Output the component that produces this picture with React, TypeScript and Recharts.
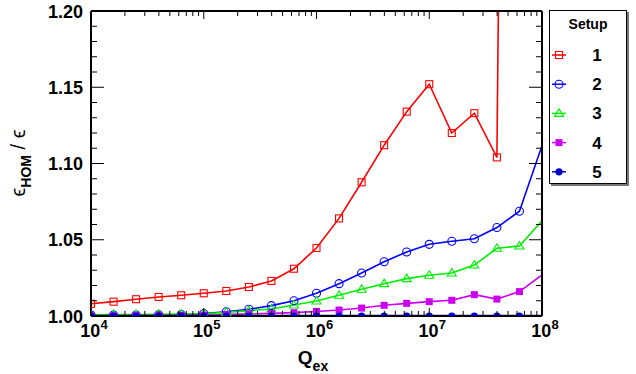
import { LineChart, Line, XAxis, YAxis } from 'recharts';

// Q_ex sample points (0.2 decade steps)
const qValues = [
  1e4, 1.585e4, 2.512e4, 3.981e4, 6.31e4,
  1e5, 1.585e5, 2.512e5, 3.981e5, 6.31e5,
  1e6, 1.585e6, 2.512e6, 3.981e6, 6.31e6,
  1e7, 1.585e7, 2.512e7, 3.981e7, 6.31e7,
  1e8,
];

const setup1 = [1.008, 1.0094, 1.011, 1.0125, 1.0136, 1.0149, 1.0164, 1.019, 1.023, 1.031, 1.0446, 1.064, 1.0877, 1.112, 1.134, 1.152, 1.12, 1.133, 1.104, 2.6, null];
const setup2 = [1.0006, 1.0006, 1.0007, 1.0008, 1.001, 1.0016, 1.0028, 1.0044, 1.0068, 1.01, 1.0149, 1.0212, 1.0282, 1.0356, 1.042, 1.047, 1.049, 1.0507, 1.058, 1.0687, 1.1117];
const setup3 = [1.0008, 1.0009, 1.001, 1.0011, 1.0012, 1.0014, 1.0024, 1.0035, 1.0046, 1.0072, 1.0098, 1.0136, 1.0175, 1.0212, 1.0245, 1.0267, 1.0282, 1.0334, 1.0444, 1.0459, 1.0625];
const setup4 = [1.0002, 1.0002, 1.0003, 1.0003, 1.0004, 1.0005, 1.001, 1.0014, 1.0017, 1.0022, 1.003, 1.0039, 1.0052, 1.007, 1.0083, 1.0094, 1.0103, 1.014, 1.0111, 1.016, 1.0269];
const setup5 = [1, 1, 1, 1, 1, 1, 1, 1, 1, 1, 1, 1, 1, 1, 1, 1, 1, 1, 1, 1, 1];

const seriesNames = ['1', '2', '3', '4', '5'];
const seriesKeys = ['s1', 's2', 's3', 's4', 's5'];
const seriesColors = ['#ff0000', '#0000ff', '#00ee00', '#cc00f0', '#0000c8'];
const seriesMarkers = ['openSquare', 'openCircle', 'openTriangle', 'square', 'circle'];

const xMajorTicks = [1e4, 1e5, 1e6, 1e7, 1e8];
const xMinorSteps = [2, 3, 4, 5, 6, 7, 8, 9];
const yTicks = [1.0, 1.01, 1.02, 1.03, 1.04, 1.05, 1.06, 1.07, 1.08, 1.09, 1.1, 1.11, 1.12, 1.13, 1.14, 1.15, 1.16, 1.17, 1.18, 1.19, 1.2];

const xTicks = [
  ...xMajorTicks,
  ...xMajorTicks.slice(0, -1).flatMap((d) => xMinorSteps.map((m) => d * m)),
].sort((a, b) => a - b);

const data = qValues.map((q, i) => ({
  q,
  s1: setup1[i],
  s2: setup2[i],
  s3: setup3[i],
  s4: setup4[i],
  s5: setup5[i],
}));

const FONT = '"Liberation Sans", Arial, Helvetica, sans-serif';

const isMajorX = (v: number) => xMajorTicks.some((d) => Math.abs(v - d) / d < 1e-6);
const isMajorY = (v: number) => Math.round(v * 100) % 5 === 0;

const Marker = ({ type, cx, cy, color }: any) => {
  if (type === 'openSquare')
    return <rect x={cx - 3.5} y={cy - 3.5} width={7} height={7} fill="none" stroke={color} strokeWidth={1.1} />;
  if (type === 'openCircle')
    return <circle cx={cx} cy={cy} r={4} fill="none" stroke={color} strokeWidth={1.1} />;
  if (type === 'openTriangle')
    return (
      <polygon
        points={`${cx},${cy - 4.5} ${cx - 4.5},${cy + 3} ${cx + 4.5},${cy + 3}`}
        fill="none"
        stroke={color}
        strokeWidth={1.1}
      />
    );
  if (type === 'square')
    return <rect x={cx - 3.5} y={cy - 3.5} width={7} height={7} fill={color} stroke="none" />;
  return <circle cx={cx} cy={cy} r={3.6} fill={color} stroke="none" />;
};

const makeDot = (type: string, color: string) => (props: any) => {
  const { cx, cy, payload, key, index } = props;
  const k = key ?? `dot-${type}-${index}`;
  if (cx == null || cy == null || payload == null || payload.q >= 1e8) return <g key={k} />;
  return (
    <g key={k}>
      <Marker type={type} cx={cx} cy={cy} color={color} />
    </g>
  );
};

const BottomTick = ({ x, y, payload }: any) => {
  const major = isMajorX(payload.value);
  const exp = Math.round(Math.log10(payload.value));
  return (
    <g>
      <line x1={x} x2={x} y1={y} y2={y - (major ? 8 : 5)} stroke="#000" strokeWidth={1} />
      {major && (
        <text x={x + 3} y={y + 21} textAnchor="middle" fontFamily={FONT} fontWeight="bold" fontSize={18} fill="#000">
          10
          <tspan fontSize={13} dy={-8}>{exp}</tspan>
        </text>
      )}
    </g>
  );
};

const TopTick = ({ x, y, payload }: any) => {
  const major = isMajorX(payload.value);
  return <line x1={x} x2={x} y1={y} y2={y + (major ? 8 : 5)} stroke="#000" strokeWidth={1} />;
};

const LeftTick = ({ x, y, payload }: any) => {
  const major = isMajorY(payload.value);
  return (
    <g>
      <line x1={x} x2={x + (major ? 13 : 6)} y1={y} y2={y} stroke="#000" strokeWidth={1} />
      {major && (
        <text x={x - 8} y={y + 6.5} textAnchor="end" fontFamily={FONT} fontWeight="bold" fontSize={18} fill="#000">
          {payload.value.toFixed(2)}
        </text>
      )}
    </g>
  );
};

const RightTick = ({ x, y, payload }: any) => {
  const major = isMajorY(payload.value);
  return <line x1={x} x2={x - (major ? 13 : 6)} y1={y} y2={y} stroke="#000" strokeWidth={1} />;
};

const LegendBox = () => (
  <svg width={636} height={374} style={{ position: 'absolute', left: 0, top: 0, pointerEvents: 'none' }}>
    {/* axis titles */}
    <text x={313} y={364} textAnchor="middle" fontFamily={FONT} fontWeight="bold" fontSize={19} fill="#000">
      Q<tspan fontSize={14} dy={7}>ex</tspan>
    </text>
    <text
      x={25}
      y={163}
      transform="rotate(-90, 25, 163)"
      textAnchor="middle"
      fontFamily={FONT}
      fontSize={20}
      fill="#000"
    >
      ϵ<tspan fontSize={14} fontWeight="bold" dy={6}>HOM</tspan>
      <tspan dy={-6}> / ϵ</tspan>
    </text>

    {/* legend */}
    <rect x={551} y={12} width={78} height={174} fill="#777" />
    <rect x={549.5} y={10.5} width={77} height={173} fill="#fff" stroke="#000" strokeWidth={1} />
    <text x={588} y={29} textAnchor="middle" fontFamily={FONT} fontWeight="bold" fontSize={14} fill="#000">
      Setup
    </text>
    {seriesNames.map((name, i) => {
      const cy = 55 + i * 29.2;
      return (
        <g key={name}>
          <line x1={552} x2={566} y1={cy} y2={cy} stroke={seriesColors[i]} strokeWidth={1.5} />
          <Marker type={seriesMarkers[i]} cx={559} cy={cy} color={seriesColors[i]} />
          <text x={597} y={cy + 6} textAnchor="middle" fontFamily={FONT} fontWeight="bold" fontSize={17} fill="#000">
            {name}
          </text>
        </g>
      );
    })}
  </svg>
);

export default function App() {
  return (
    <div style={{ position: 'absolute', left: 0, top: 0, width: 636, height: 374, background: '#fff' }}>
      <LineChart width={636} height={374} data={data} margin={{ top: 10, right: 93, left: 11, bottom: 0 }}>
        <XAxis
          xAxisId="bottom"
          dataKey="q"
          type="number"
          scale="log"
          domain={[1e4, 1e8]}
          allowDataOverflow
          ticks={xTicks}
          interval={0}
          height={58}
          tickLine={false}
          tickSize={0}
          tickMargin={0}
          axisLine={{ stroke: '#000', strokeWidth: 2 }}
          tick={<BottomTick />}
        />
        <XAxis
          xAxisId="top"
          orientation="top"
          dataKey="q"
          type="number"
          scale="log"
          domain={[1e4, 1e8]}
          allowDataOverflow
          ticks={xTicks}
          interval={0}
          height={1}
          tickLine={false}
          tickSize={0}
          tickMargin={0}
          axisLine={{ stroke: '#000', strokeWidth: 2 }}
          tick={<TopTick />}
        />
        <YAxis
          yAxisId="left"
          type="number"
          domain={[1, 1.2]}
          allowDataOverflow
          ticks={yTicks}
          interval={0}
          width={80}
          tickLine={false}
          tickSize={0}
          tickMargin={0}
          axisLine={{ stroke: '#000', strokeWidth: 2 }}
          tick={<LeftTick />}
        />
        <YAxis
          yAxisId="right"
          orientation="right"
          type="number"
          domain={[1, 1.2]}
          allowDataOverflow
          ticks={yTicks}
          interval={0}
          width={1}
          tickLine={false}
          tickSize={0}
          tickMargin={0}
          axisLine={{ stroke: '#000', strokeWidth: 2 }}
          tick={<RightTick />}
        />
        {seriesKeys.map((k, i) => (
          <Line
            key={k}
            xAxisId="bottom"
            yAxisId="left"
            type="linear"
            dataKey={k}
            name={seriesNames[i]}
            stroke={seriesColors[i]}
            strokeWidth={i === 4 ? 2.6 : 1.6}
            dot={makeDot(seriesMarkers[i], seriesColors[i])}
            activeDot={false}
            isAnimationActive={false}
          />
        ))}
      </LineChart>
      <LegendBox />
    </div>
  );
}
